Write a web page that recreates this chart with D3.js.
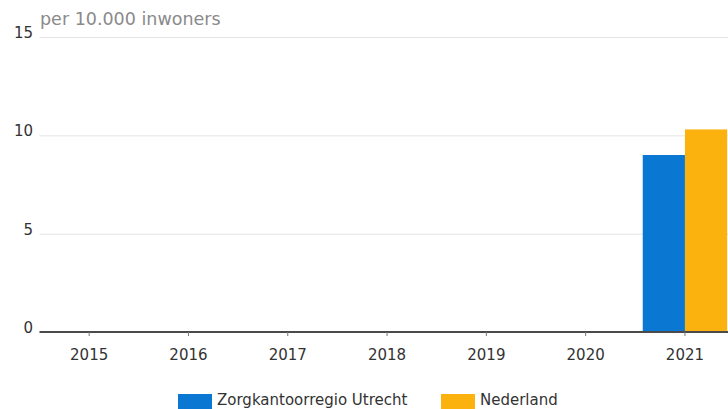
<!DOCTYPE html>
<html>
<head>
<meta charset="utf-8">
<script src="https://cdn.jsdelivr.net/npm/d3@7"></script>
<style>
  html, body { margin: 0; padding: 0; background: #fff; overflow: hidden; }
  svg { display: block; font-family: "DejaVu Sans", Verdana, sans-serif; }
</style>
</head>
<body>
<svg id="chart" width="728" height="409"></svg>
<script>
// Jaren op de x-as
const years = ["2015", "2016", "2017", "2018", "2019", "2020", "2021"];
// Reeksen (per 10.000 inwoners); null = geen gegevens
const seriesNames = ["Zorgkantoorregio Utrecht", "Nederland"];
const utrecht = [null, null, null, null, null, null, 9.0];
const nederland = [null, null, null, null, null, null, 10.3];
const yTicks = [0, 5, 10, 15];
const colors = ["#0a78d2", "#fbb20e"];

const svg = d3.select("#chart");
const margin = { left: 39.5, top: 37, bottom: 332 };
const step = 99.3;

const x = d3.scaleBand()
  .domain(years)
  .range([margin.left, margin.left + step * years.length])
  .paddingInner(0.15)
  .paddingOuter(0.075);

const xSub = d3.scaleBand()
  .domain(seriesNames)
  .range([0, x.bandwidth()]);

const y = d3.scaleLinear().domain([0, 15]).range([margin.bottom, margin.top]);

// Gridlines
svg.append("g")
  .selectAll("line")
  .data(yTicks.filter(d => d > 0))
  .join("line")
  .attr("x1", margin.left)
  .attr("x2", 728)
  .attr("y1", d => y(d) + 0.5)
  .attr("y2", d => y(d) + 0.5)
  .attr("stroke", "#e4e4e4")
  .attr("stroke-width", 1);

// Y labels
svg.append("g")
  .selectAll("text")
  .data(yTicks)
  .join("text")
  .attr("x", 33)
  .attr("y", d => y(d) + 1)
  .attr("text-anchor", "end")
  .attr("font-size", 15)
  .attr("fill", "#333")
  .text(d => d);

// Unit label
svg.append("text")
  .attr("x", 40)
  .attr("y", 25)
  .attr("font-size", 17.5)
  .attr("fill", "#8a8a8a")
  .text("per 10.000 inwoners");

// Bars
const rows = years.map((yr, i) => ({ year: yr, values: [utrecht[i], nederland[i]] }));
svg.append("g")
  .selectAll("g")
  .data(rows)
  .join("g")
  .attr("transform", d => `translate(${x(d.year)},0)`)
  .selectAll("rect")
  .data(d => d.values.map((v, j) => ({ name: seriesNames[j], v, j })).filter(e => e.v != null))
  .join("rect")
  .attr("x", d => xSub(d.name))
  .attr("width", xSub.bandwidth())
  .attr("y", d => y(d.v))
  .attr("height", d => y(0) - y(d.v))
  .attr("fill", d => colors[d.j]);

// X axis
const xAxis = svg.append("g")
  .attr("transform", `translate(0,${margin.bottom})`)
  .call(d3.axisBottom(x).tickSize(4).tickPadding(8).tickSizeOuter(0));
xAxis.select(".domain").attr("stroke", "#4a4a4a").attr("stroke-width", 2)
  .attr("d", `M${margin.left},0H728`);
xAxis.selectAll(".tick line").attr("stroke", "#777");
xAxis.selectAll(".tick text")
  .attr("y", 28)
  .attr("dy", 0)
  .attr("font-size", 15)
  .attr("fill", "#333")
  .attr("font-family", "DejaVu Sans, Verdana, sans-serif");

// Legend
const legend = svg.append("g");
const legendItems = [
  { name: seriesNames[0], color: colors[0], x: 178 },
  { name: seriesNames[1], color: colors[1], x: 441 }
];
const li = legend.selectAll("g").data(legendItems).join("g")
  .attr("transform", d => `translate(${d.x},394)`);
li.append("rect").attr("width", 34).attr("height", 15).attr("fill", d => d.color);
li.append("text")
  .attr("x", 39)
  .attr("y", 11)
  .attr("font-size", 15)
  .attr("fill", "#333")
  .text(d => d.name);
</script>
</body>
</html>
